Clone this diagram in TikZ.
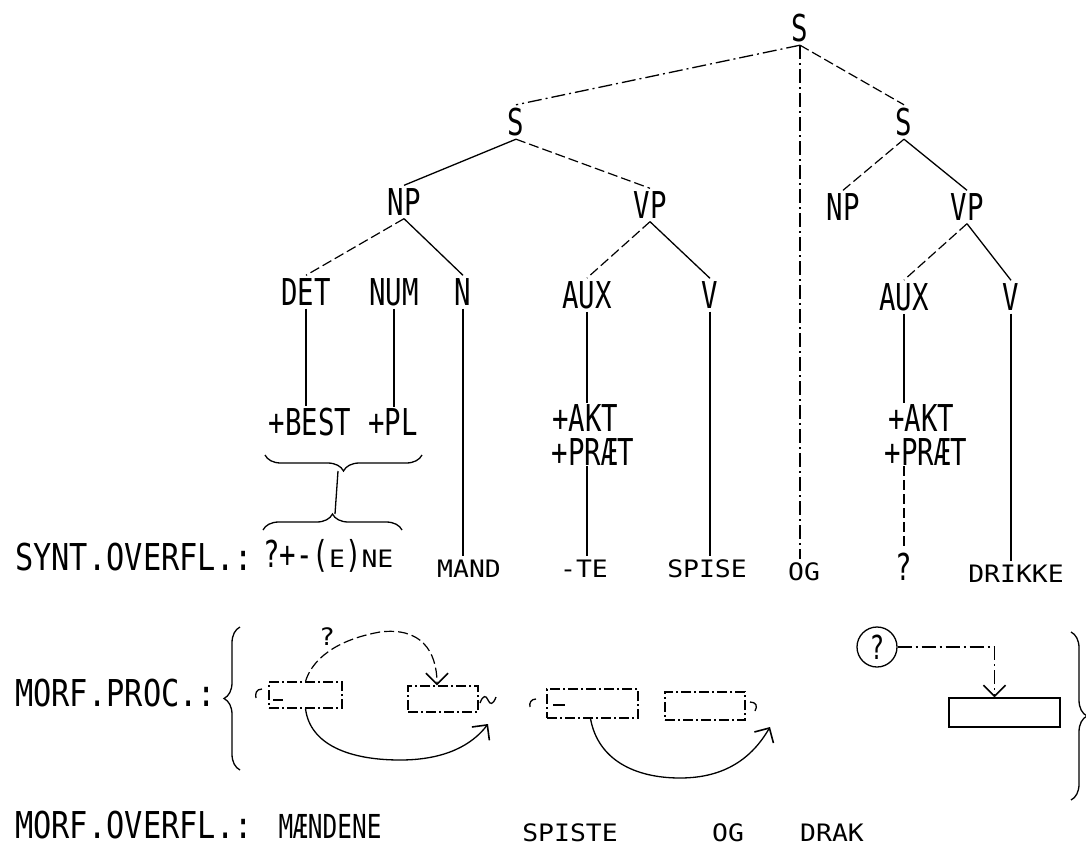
\documentclass[tikz,border=0pt]{standalone}
\usepackage{fontspec}
\usetikzlibrary{arrows.meta,decorations.pathreplacing,calc}
\newfontfamily\treefam{DejaVu Sans Mono}[FakeStretch=0.74]
\newfontfamily\rowfam{DejaVu Sans Mono}[FakeStretch=0.82]
\newfontfamily\wordfam{DejaVu Sans Mono}[FakeStretch=1.1]
\newcommand{\catfont}{\treefam\fontsize{37}{40}\selectfont}
\newcommand{\rowfont}{\rowfam\fontsize{37}{40}\selectfont}
\newcommand{\wordfont}{\wordfam\fontsize{24}{26}\selectfont}
\newcommand{\midfont}{\treefam\fontsize{33}{36}\selectfont}
\begin{document}
\begin{tikzpicture}[x=1pt, y=-1pt,
    cat/.style={font=\catfont, inner sep=3pt},
    feat/.style={font=\catfont, inner sep=1pt, anchor=base},
    word/.style={font=\wordfont, inner sep=3pt, anchor=base},
    rowlabel/.style={font=\rowfont, inner sep=0pt, anchor=base west},
    edge/.style={line width=1.3pt},
    faint/.style={line width=1.2pt, dash pattern=on 10pt off 4pt},
    dashdot/.style={line width=1.3pt, dash pattern=on 14pt off 4pt on 2pt off 4pt},
    morfbox/.style={draw, line width=1.3pt, dash pattern=on 10pt off 3pt on 2pt off 3pt,
                    inner sep=0pt},
    arr/.style={-{Straight Barb[length=11pt,width=22pt,line width=1.6pt]}},
    bracedown/.style={decorate, decoration={brace, mirror, amplitude=16pt}, line width=1.3pt},
    braceup/.style={decorate, decoration={brace, amplitude=16pt}, line width=1.3pt}
]
\useasboundingbox (0,0) rectangle (1086,851);

% tree
\node[cat] (s0) at (800,28) {S};
\node[cat] (s1) at (516,122) {S};
\node[cat] (s2) at (904,122) {S};
\node[cat] (np1) at (404,202) {NP};
\node[cat] (vp1) at (650,205) {VP};
\node[cat] (np2) at (843,207) {NP};
\node[cat] (vp2) at (967,207) {VP};
\node[cat] (det) at (306,292) {DET};
\node[cat] (num) at (394,292) {NUM};
\node[cat] (n) at (463,292) {N};
\node[cat] (aux1) at (587,295) {AUX};
\node[cat] (v1) at (710,295) {V};
\node[cat] (aux2) at (904,297) {AUX};
\node[cat] (v2) at (1011,297) {V};

% features
\node[feat] (best) at (310,435) {+BEST};
\node[feat] (pl) at (393,435) {+PL};
\node[feat] (akt1) at (585,431) {+AKT};
\node[feat] (praet1) at (593,465) {+PRÆT};
\node[feat] (akt2) at (921,431) {+AKT};
\node[feat] (praet2) at (926,465) {+PRÆT};

% syntactic surface
\node[rowlabel] (synt) at (15,570) {SYNT.OVERFL.:};
\node[anchor=base west, inner sep=0pt] (ne) at (263,567)
    {{\catfont ?+-(}{\wordfont E}{\catfont )}{\wordfont NE}};
\node[word] (mand) at (469,577) {MAND};
\node[word] (te) at (584,577) {-TE};
\node[word] (spise) at (707,577) {SPISE};
\node[word] (og) at (804,580) {OG};
\node[word, font=\catfont] (qm) at (904,580) {?};
\node[word] (drikke) at (1016,582) {DRIKKE};

% edges
\draw[dashdot] (s0.south) -- (s1.north);
\draw[faint] (s0.south) -- (s2.north);
\draw[dashdot] (s0.south) -- (s0.south |- og.north);
\draw[edge] (s1.south) -- (np1.north);
\draw[faint] (s1.south) -- (vp1.north);
\draw[faint] (np1.south) -- (det.north);
\draw[edge] (np1.south) -- (n.north);
\draw[faint] (vp1.south) -- (aux1.north);
\draw[edge] (vp1.south) -- (v1.north);
\draw[faint] (s2.south) -- (np2.north);
\draw[edge] (s2.south) -- (vp2.north);
\draw[faint] (vp2.south) -- (aux2.north);
\draw[edge] (vp2.south) -- (v2.north);

\draw[edge] (det.south) -- (det.south |- best.north);
\draw[edge] (num.south) -- (num.south |- pl.north);
\draw[edge] (n.south) -- (n.south |- mand.north);
\draw[edge] (aux1.south) -- (aux1.south |- akt1.north);
\draw[edge] (aux1 |- praet1.south) -- (aux1 |- te.north);
\draw[edge] (v1.south) -- (v1.south |- spise.north);
\draw[edge] (aux2.south) -- (aux2.south |- akt2.north);
\draw[faint] (aux2 |- praet2.south) -- (aux2 |- qm.north);
\draw[edge] (v2.south) -- (v2.south |- drikke.north);

% braces between features and ending
\draw[bracedown] (265,455) -- (422,455);
\draw[braceup] (263,530) -- (402,530);
\coordinate (br1) at (338,471);
\coordinate (br2) at (335,514);
\draw[edge] (br1) -- (br2);

% morphological processes
\node[rowlabel] (proc) at (15,706) {MORF.PROC.:};
\draw[braceup] (240,770) -- (240,627);
\draw[braceup] (1071,632) -- (1071,800);

\node[morfbox, minimum width=73pt, minimum height=26pt] (mb1) at (305.5,695) {};
\node[morfbox, minimum width=70pt, minimum height=26pt] (mb2) at (443,699) {};
\node[morfbox, minimum width=91pt, minimum height=29pt] (mb3) at (592.5,703.5) {};
\node[morfbox, minimum width=80pt, minimum height=28pt] (mb4) at (705,706) {};
\node[draw, line width=1.3pt, minimum width=111pt, minimum height=29pt, inner sep=0pt]
    (mb5) at (1004.5,712.5) {};
\node[draw, circle, line width=1.3pt, minimum size=40pt, inner sep=0pt, font=\midfont]
    (qc) at (877,647) {?};
\node[font=\wordfont, inner sep=0pt] (q1) at (327,637) {?};

% boundary marks
\draw[edge] (262,689) .. controls (256,689) and (255,694) .. (256,698);
\draw[edge] (273,700) -- (283,700);
\draw[edge] (480,703) .. controls (483,695) and (486,695) .. (488,700)
                      .. controls (490,705) and (493,705) .. (496,697);
\draw[edge] (536,699) .. controls (531,699) and (529,703) .. (530,707);
\draw[edge] (553,705) -- (565,705);
\draw[edge] (750,702) .. controls (756,702) and (758,706) .. (755,711);
\coordinate (t2) at (488,724);
\coordinate (t4) at (770,727);

% process arrows
\draw[faint, arr] (mb1.north) .. controls (312,660) and (335,640) .. (380,632)
    .. controls (420,627) and (437,650) .. ([xshift=-6pt]mb2.north);
\draw[edge, arr] (mb1.south) .. controls (310,745) and (350,760) .. (400,760)
    .. controls (445,760) and (472,745) .. (t2);
\draw[edge, arr] ([xshift=-2pt]mb3.south) .. controls (598,760) and (635,778) .. (680,778)
    .. controls (725,778) and (752,758) .. (t4);
\draw[dashdot, arr] (qc.east) -| ([xshift=-10pt]mb5.north);

% morphological surface
\node[rowlabel] (morf) at (15,838) {MORF.OVERFL.:};
\node[anchor=base, inner sep=0pt, font=\midfont] (maend) at (330,838) {MÆNDENE};
\node[word] (spiste) at (570,841) {SPISTE};
\node[word] (og2) at (728,841) {OG};
\node[word] (drak) at (832,841) {DRAK};
\end{tikzpicture}
\end{document}
